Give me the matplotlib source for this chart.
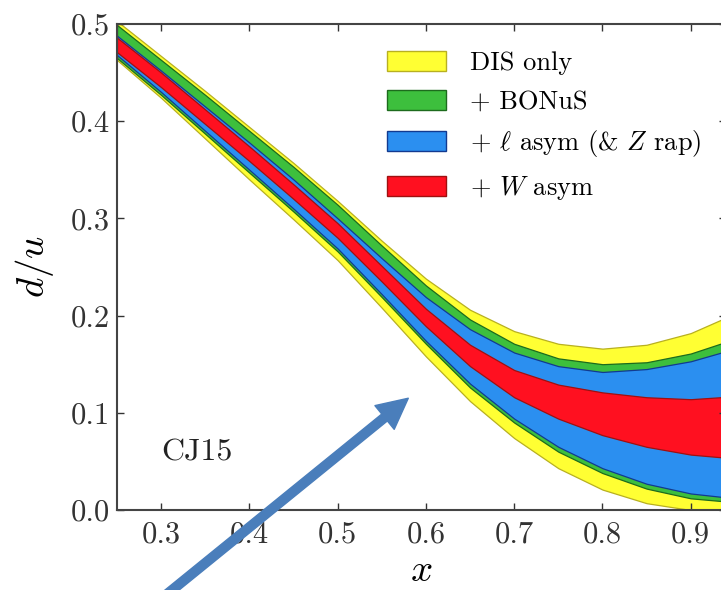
import matplotlib
matplotlib.use('Agg')
import matplotlib.pyplot as plt
from matplotlib.patches import Patch

plt.rcParams['font.family'] = 'cmr10'
plt.rcParams['mathtext.fontset'] = 'cm'
plt.rcParams['axes.formatter.use_mathtext'] = True

# d/u band edges
x = [0.25, 0.30, 0.35, 0.40, 0.45, 0.50, 0.55, 0.60, 0.65, 0.70, 0.75, 0.80, 0.85, 0.90, 0.95]
dis_hi = [0.503, 0.467, 0.431, 0.394, 0.357, 0.318, 0.277, 0.238, 0.206, 0.184, 0.171, 0.166, 0.170, 0.182, 0.202]
dis_lo = [0.463, 0.424, 0.382, 0.340, 0.299, 0.257, 0.208, 0.158, 0.112, 0.074, 0.043, 0.021, 0.007, 0.000, -0.004]
bonus_hi = [0.499, 0.463, 0.427, 0.390, 0.353, 0.314, 0.272, 0.231, 0.196, 0.171, 0.156, 0.150, 0.152, 0.161, 0.176]
bonus_lo = [0.465, 0.427, 0.387, 0.347, 0.307, 0.266, 0.219, 0.171, 0.126, 0.090, 0.060, 0.038, 0.022, 0.012, 0.008]
lasym_hi = [0.488, 0.452, 0.415, 0.378, 0.340, 0.300, 0.259, 0.219, 0.186, 0.162, 0.148, 0.142, 0.145, 0.153, 0.166]
lasym_lo = [0.468, 0.430, 0.390, 0.350, 0.310, 0.269, 0.222, 0.174, 0.130, 0.094, 0.065, 0.043, 0.027, 0.017, 0.012]
wasym_hi = [0.486, 0.450, 0.412, 0.374, 0.335, 0.295, 0.251, 0.207, 0.170, 0.144, 0.129, 0.121, 0.116, 0.114, 0.117]
wasym_lo = [0.471, 0.435, 0.397, 0.359, 0.320, 0.280, 0.235, 0.189, 0.148, 0.116, 0.094, 0.077, 0.065, 0.057, 0.053]

labels = ['DIS only', '+ BONuS', r'+ $\ell$ asym (& $Z$ rap)', r'+ $W$ asym']
fills = ['#ffff33', '#3dbf3d', '#2b8ff0', '#ff1020']
edges = ['#b8b020', '#1d6b1d', '#123a90', '#a01010']

x_ticks = [0.3, 0.4, 0.5, 0.6, 0.7, 0.8, 0.9]
y_ticks = [0.0, 0.1, 0.2, 0.3, 0.4, 0.5]

fig = plt.figure(figsize=(7.21, 5.90), dpi=100)
ax = fig.add_axes([0.1623, 0.1356, 0.8447, 0.8237])

bands = [(dis_lo, dis_hi), (bonus_lo, bonus_hi), (lasym_lo, lasym_hi), (wasym_lo, wasym_hi)]
for (lo, hi), fc, ec in zip(bands, fills, edges):
    ax.fill_between(x, lo, hi, facecolor=fc, edgecolor=ec, linewidth=0.9)

ax.set_xlim(0.25, 0.94)
ax.set_ylim(0.0, 0.5)
ax.set_xticks(x_ticks)
ax.set_xticklabels(['%.1f' % t for t in x_ticks])
ax.set_yticks(y_ticks)
ax.set_yticklabels(['%.1f' % t for t in y_ticks])
ax.tick_params(direction='in', length=5, width=1, colors='#333333', labelsize=22,
               top=True, right=True, labelcolor='#333333')
ax.tick_params(axis='x', pad=8)
ax.tick_params(axis='y', pad=5)
for s in ax.spines.values():
    s.set_color('#444444')
    s.set_linewidth(1.5)

ax.set_xlabel(r'$x$', fontsize=28, labelpad=3)
ax.set_ylabel(r'$d/u$', fontsize=28, labelpad=11)

ax.text(0.341, 0.051, 'CJ15', fontsize=23, color='#222222', ha='center')

handles = [Patch(facecolor=fc, edgecolor=ec, linewidth=1) for fc, ec in zip(fills, edges)]
ax.legend(handles, labels, loc='upper left', bbox_to_anchor=(0.443, 0.945), frameon=False,
          fontsize=19, handlelength=2.26, handleheight=0.8, handletextpad=0.9,
          labelspacing=0.55, borderpad=0, borderaxespad=0)

# the blue pointer arrow over the picture
ax.annotate('', xy=(0.58, 0.115), xycoords='data', xytext=(145, -22), textcoords='figure pixels',
            arrowprops=dict(arrowstyle='simple,head_length=1.1,head_width=1.1,tail_width=0.32',
                            mutation_scale=20, color='#4a7ebb', shrinkA=0, shrinkB=0),
            annotation_clip=False)

fig.savefig('out.png', dpi=100)
